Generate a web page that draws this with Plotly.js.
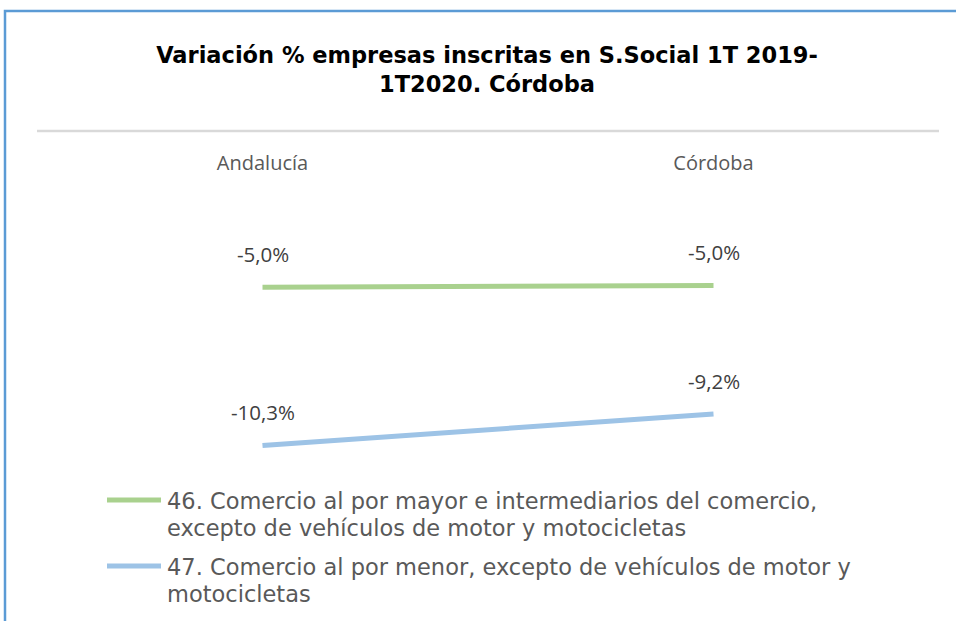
<!DOCTYPE html>
<html>
<head>
<meta charset="utf-8">
<script src="https://cdn.plot.ly/plotly-3.0.1.min.js"></script>
<style>html,body{margin:0;padding:0;background:#fff;}#chart{width:956px;height:621px;}</style>
</head>
<body>
<div id="chart"></div>
<script>
var categories = ["Andalucía", "Córdoba"];
var seriesNames = [
  "46. Comercio al por mayor e intermediarios del comercio,<br>excepto de vehículos de motor y motocicletas",
  "47. Comercio al por menor, excepto de vehículos de motor y<br>motocicletas"
];
var series46 = [-5.04, -4.98];
var series47 = [-10.28, -9.24];
var labels46 = ["-5,0%", "-5,0%"];
var labels47 = ["-10,3%", "-9,2%"];
var seriesColors = ["#A9D18E", "#9DC3E6"];
var titleText = "Variación % empresas inscritas en S.Social 1T 2019-<br>1T2020. Córdoba";

var allValues = [series46, series47];
var allLabels = [labels46, labels47];

var traces = allValues.map(function (vals, i) {
  return {
    type: "scatter", mode: "lines", x: categories, y: vals, name: seriesNames[i],
    line: {color: seriesColors[i], width: 5}, hoverinfo: "skip", showlegend: false
  };
});

var annotations = [];
allValues.forEach(function (vals, i) {
  vals.forEach(function (v, j) {
    annotations.push({
      x: categories[j], y: v, xref: "x", yref: "y", text: allLabels[i][j],
      showarrow: false, yshift: 33, font: {family: "Open Sans", size: 20.5, color: "#404040"}
    });
  });
});

// custom legend
var shapes = [];
var legendTop = [500, 566];
var legendLineGap = 27;
var L = 37, T = 178, W = 902, H = 292;
function px2x(px) { return (px - L) / W; }
function py2y(py) { return 1 - (py - T) / H; }
seriesNames.forEach(function (n, i) {
  shapes.push({type: "line", xref: "paper", yref: "paper", x0: px2x(107), x1: px2x(161),
    y0: py2y(legendTop[i]), y1: py2y(legendTop[i]), line: {color: seriesColors[i], width: 5}});
  n.split("<br>").forEach(function (part, k) {
    annotations.push({xref: "paper", yref: "paper", x: px2x(165), y: py2y(legendTop[i] + k * legendLineGap + 1),
      xanchor: "left", yanchor: "middle", align: "left", showarrow: false, text: part,
      font: {family: "DejaVu Sans", size: 22.5, color: "#595959"}});
  });
});
// separator line under title
shapes.push({type: "line", xref: "paper", yref: "paper", x0: 0, x1: 1, y0: py2y(131), y1: py2y(131),
  line: {color: "#D9D9D9", width: 2.5}});
// outer frame (top & left)
shapes.push({type: "path", xref: "paper", yref: "paper",
  path: "M " + px2x(5) + " " + py2y(640) + " L " + px2x(5) + " " + py2y(11) + " L " + px2x(970) + " " + py2y(11),
  line: {color: "#5B9BD5", width: 2.5}});

var layout = {
  width: 956, height: 621,
  paper_bgcolor: "#fff", plot_bgcolor: "#fff",
  margin: {l: L, r: 956 - L - W, t: T, b: 621 - T - H},
  title: {text: titleText, x: (487 - L) / W, xref: "paper", xanchor: "center",
    y: 1 - 63 / 621, yref: "container", yanchor: "middle",
    font: {family: "DejaVu Sans", size: 22.5, color: "#000", weight: "bold"}},
  xaxis: {type: "category", categoryarray: categories, range: [-0.5, 1.5], side: "top",
    showgrid: false, zeroline: false, showline: false, ticks: "", ticklabelstandoff: 3,
    tickfont: {family: "Open Sans", size: 20, color: "#595959"}, fixedrange: true},
  yaxis: {range: [-5 - (470 - 286) / 30.2, -5 + (286 - 178) / 30.2], visible: false, fixedrange: true},
  shapes: shapes, annotations: annotations, showlegend: false
};
Plotly.newPlot("chart", traces, layout, {displayModeBar: false, staticPlot: true});
</script>
</body>
</html>
